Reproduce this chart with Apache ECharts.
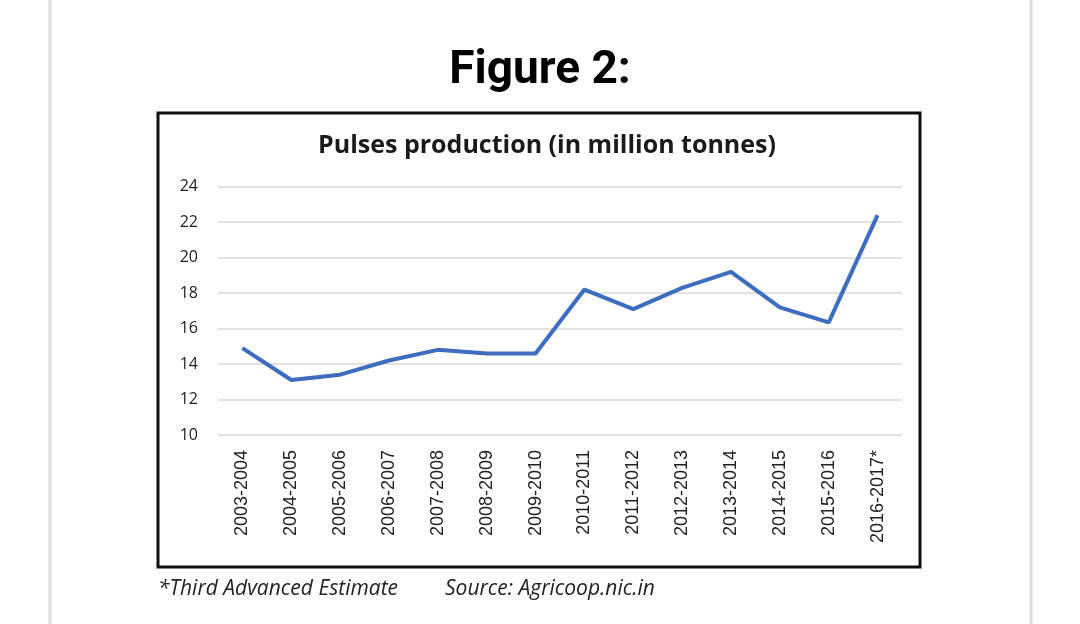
<!DOCTYPE html>
<html>
<head>
<meta charset="utf-8">
<script src="https://cdn.jsdelivr.net/npm/echarts@6/dist/echarts.min.js"></script>
<style>
html,body{margin:0;padding:0;background:#fff;}
#chart{width:1080px;height:624px;}
</style>
</head>
<body>
<div id="chart"></div>
<script>
const categories = ['2003-2004','2004-2005','2005-2006','2006-2007','2007-2008','2008-2009','2009-2010','2010-2011','2011-2012','2012-2013','2013-2014','2014-2015','2015-2016','2016-2017*'];
const production = [14.9, 13.1, 13.4, 14.2, 14.8, 14.6, 14.6, 18.2, 17.1, 18.3, 19.2, 17.2, 16.35, 22.4];
const yMin = 10, yMax = 24, yStep = 2;

const chart = echarts.init(document.getElementById('chart'), null, {renderer:'canvas'});
chart.setOption({
  backgroundColor:'#ffffff',
  animation:false,
  title:[
    {text:'Figure 2:', left:540, textAlign:'center', top:48, padding:0,
     textStyle:{fontFamily:'Roboto', fontWeight:'bold', fontSize:46, color:'#000'}},
    {text:'Pulses production (in million tonnes)', left:547, textAlign:'center', top:133, padding:0,
     textStyle:{fontFamily:'Open Sans', fontWeight:'bold', fontSize:25, color:'#1a1a1a'}},
    {text:'*Third Advanced Estimate', left:158, top:579, padding:0,
     textStyle:{fontFamily:'Open Sans', fontStyle:'italic', fontWeight:'normal', fontSize:21, color:'#222'}},
    {text:'Source: Agricoop.nic.in', left:445, top:579, padding:0,
     textStyle:{fontFamily:'Open Sans', fontStyle:'italic', fontWeight:'normal', fontSize:21, color:'#222'}}
  ],
  graphic:[
    {type:'line', shape:{x1:50, y1:0, x2:50, y2:624}, style:{stroke:'#dcdcdc', lineWidth:3}},
    {type:'line', shape:{x1:1031, y1:0, x2:1031, y2:624}, style:{stroke:'#dcdcdc', lineWidth:3}},
    {type:'rect', shape:{x:158, y:113, width:762, height:454}, style:{fill:'none', stroke:'#111', lineWidth:3}}
  ],
  grid:{left:218, right:178, top:186.7, bottom:189},
  xAxis:{
    type:'category', data:categories, boundaryGap:true,
    axisLine:{show:false}, axisTick:{show:false},
    axisLabel:{rotate:90, margin:15, fontFamily:'Liberation Sans', fontSize:18, color:'#222', interval:0}
  },
  yAxis:{
    type:'value', min:yMin, max:yMax, interval:yStep,
    axisLine:{show:false}, axisTick:{show:false},
    axisLabel:{margin:20, fontFamily:'Open Sans', fontSize:16, color:'#222'},
    splitLine:{lineStyle:{color:'#e2e2e2', width:2}}
  },
  series:[{
    type:'line', data:production, symbol:'none',
    lineStyle:{color:'#3d6cc0', width:4}
  }]
});
</script>
</body>
</html>
